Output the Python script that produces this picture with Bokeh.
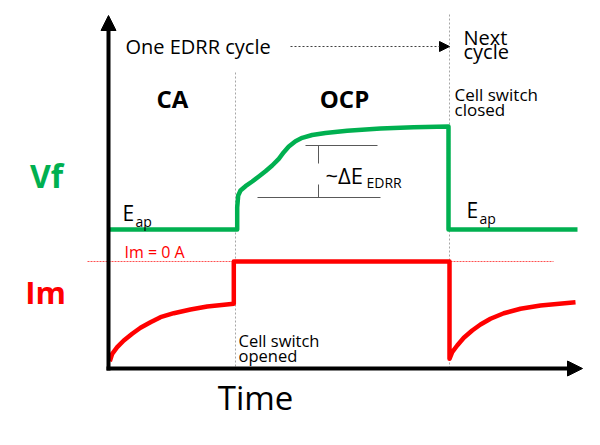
from bokeh.plotting import figure
from bokeh.models import Range1d, Arrow, NormalHead
from bokeh.core.properties import value
from bokeh.embed import file_html
from bokeh.resources import INLINE

# ---- data (schematic, in diagram units) ----
green_t = [108, 236.7, 236.7, 237.7, 240, 245, 251.7, 258.3, 265, 271.7, 278.3, 283.3,
           288.3, 295, 301.7, 311.7, 325, 346.7, 380, 413, 448, 448, 577]
green_v = [229, 229, 206.7, 195, 190, 185.7, 181, 176, 170.7, 165, 158.3, 151.7,
           146, 140.7, 137.3, 134.5, 132.5, 130.3, 128, 126.8, 126, 229, 229]

red_t = [109.3, 111.7, 116.7, 123.3, 131.7, 140, 150, 160, 173.3, 190, 206.7, 233.3,
         233.3, 449, 449, 451.7, 456.7, 463.3, 471.7, 480, 490, 503.3, 520, 540, 575]
red_v = [360.7, 353.3, 346.7, 340, 333.3, 327.3, 321.7, 316.7, 312.7, 309, 306, 303.3,
         261, 261, 358.3, 351.7, 345, 337.3, 330, 324, 318.3, 312.7, 308.3, 305, 301.7]

switch_t = [235, 449]
switch_top = [72, 14]
zero_line_t = [87, 553]
zero_level = 261

FONT = value("Open Sans")

p = figure(width=584, height=429, x_range=Range1d(0, 584), y_range=Range1d(429, 0),
           x_axis_type=None, y_axis_type=None, toolbar_location=None,
           output_backend="svg", min_border=0, outline_line_color=None,
           background_fill_color="white", border_fill_color="white")
p.grid.visible = False

# switch dotted verticals
for t, top in zip(switch_t, switch_top):
    p.line([t, t], [top, 368], line_color="#A6A6A6", line_width=1, line_dash="2 2")

# Im = 0 reference
p.line(zero_line_t, [zero_level, zero_level], line_color="#FF5050", line_width=1, line_dash="2 1")

# delta markers
p.line([305, 377], [145, 145], line_color="#595959", line_width=1)
p.line([257, 380], [197, 197], line_color="#595959", line_width=1)
p.line([318, 318], [145, 163], line_color="#595959", line_width=1)
p.line([318, 318], [184, 197], line_color="#595959", line_width=1)

# curves
p.line(green_t, green_v, line_color="#00B050", line_width=4.5, line_join="round")
p.line(red_t, red_v, line_color="#FF0000", line_width=4.5, line_join="round")

# axes arrows
p.add_layout(Arrow(end=NormalHead(size=15, fill_color="black", line_color="black"),
                   x_start=108, y_start=370, x_end=108, y_end=15,
                   line_width=4, line_color="black"))
p.add_layout(Arrow(end=NormalHead(size=15, fill_color="black", line_color="black"),
                   x_start=106, y_start=368, x_end=582, y_end=368,
                   line_width=4, line_color="black"))

# cycle arrow
p.add_layout(Arrow(end=NormalHead(size=10, fill_color="black", line_color="black"),
                   x_start=290, y_start=46, x_end=449, y_end=46,
                   line_width=1, line_color="#404040", line_dash="2 2"))

def txt(x, y, s, size, color="black", style="normal", align="left"):
    # y is the desired baseline; compensate for the renderer's baseline offset
    p.text(x=[x], y=[y - 0.36 * size], text=[s], text_font=FONT,
           text_font_size=f"{size}px", text_color=color, text_font_style=style,
           text_align=align, text_baseline="alphabetic")

txt(125, 53, "One EDRR cycle", 20)
txt(172, 107, "CA", 24, style="bold", align="center")
txt(344, 107, "OCP", 24, style="bold", align="center")
txt(463, 44, "Next", 20)
txt(463, 58.5, "cycle", 20)
txt(454, 100, "Cell switch", 17)
txt(454, 115.5, "closed", 17)
txt(238, 346, "Cell switch", 16.5)
txt(238, 361, "opened", 16.5)
txt(255, 409, "Time", 33, align="center")
txt(46, 187, "Vf", 32, color="#00B050", style="bold", align="center")
txt(45, 303, "Im", 31, color="#FF0000", style="bold", align="center")
txt(124, 257, "Im = 0 A", 16, color="#FF0000")

txt(122, 220, "E", 21)
txt(135, 226, "ap", 14)
txt(466, 217, "E", 21)
txt(479, 223, "ap", 14)
txt(325, 182, "~ΔE", 22)
txt(366, 187, "EDRR", 14)

open("out.html", "w").write(file_html(p, INLINE))
